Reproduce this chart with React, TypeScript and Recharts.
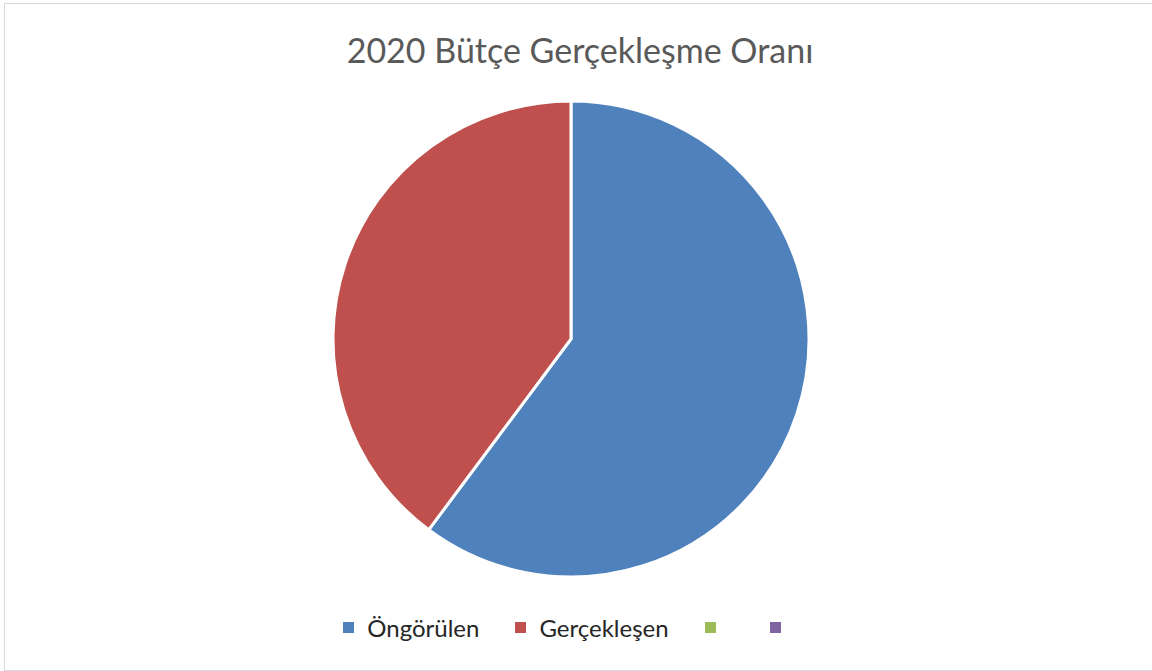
import React from "react";
import { PieChart, Pie, Cell, Legend } from "recharts";

const title = "2020 Bütçe Gerçekleşme Oranı";
const categories = ["Öngörülen", "Gerçekleşen", "", ""];
const values = [60.2, 39.8];
const colors = ["#4f81bd", "#c0504d", "#9bbb59", "#8064a2"];

const pieData = values.map((v, i) => ({ name: categories[i], value: v }));

const font = "Lato, 'Open Sans', sans-serif";

function LegendContent() {
  return (
    <div style={{ display: "flex", justifyContent: "center", alignItems: "center", fontFamily: font, fontSize: 24, color: "#262626" }}>
      {categories.map((c, i) => (
        <div key={i} style={{ display: "flex", alignItems: "center", marginRight: i < categories.length - 1 ? 36 : 0 }}>
          <span style={{ display: "inline-block", width: 11, height: 11, background: colors[i], marginRight: 13 }} />
          <span style={{ minWidth: 5 }}>{c}</span>
        </div>
      ))}
    </div>
  );
}

export default function App() {
  return (
    <div style={{ position: "absolute", left: 0, top: 0, width: 1152, height: 671, background: "#fff", overflow: "hidden" }}>
      <div style={{ position: "absolute", left: 4, top: 3, width: 1160, height: 666, border: "1px solid #d9d9d9" }} />
      <div style={{ position: "absolute", left: 0, top: 29, width: 1160, textAlign: "center", fontFamily: font, fontSize: 34, color: "#595959" }}>
        {title}
      </div>
      <PieChart width={1152} height={671} margin={{ top: 0, right: 0, bottom: 0, left: 0 }} style={{ position: "absolute", left: 0, top: 0 }}>
        <Pie
          data={pieData}
          dataKey="value"
          nameKey="name"
          cx={571}
          cy={339}
          outerRadius={238}
          startAngle={90}
          endAngle={-270}
          stroke="#fff"
          strokeWidth={3}
          isAnimationActive={false}
        >
          {pieData.map((d, i) => (
            <Cell key={d.name} fill={colors[i]} />
          ))}
        </Pie>
        <Legend content={LegendContent} wrapperStyle={{ position: "absolute", left: 0, top: 613, width: 1142 }} />
      </PieChart>
    </div>
  );
}
